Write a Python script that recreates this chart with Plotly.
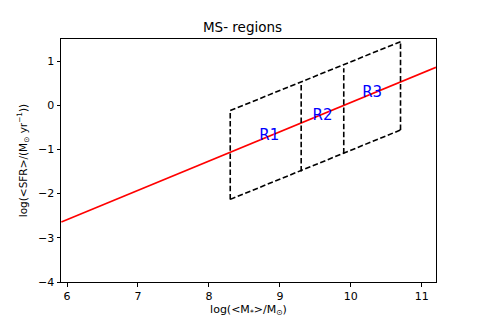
import plotly.graph_objects as go

# Main-sequence line
ms_x = [5.92, 11.2]
ms_y = [-2.64, 0.86]

# Region boundaries (x positions) with top/bottom y values
edge_x = [8.3, 9.3, 9.9, 10.7]
edge_top = [-0.12, 0.50, 0.84, 1.44]
edge_bot = [-2.13, -1.50, -1.09, -0.56]

# Region labels
lab_text = ["R1", "R2", "R3"]
lab_x = [8.85, 9.60, 10.30]
lab_y = [-0.69, -0.24, 0.27]

x_ticks = [6, 7, 8, 9, 10, 11]
y_ticks = [-4, -3, -2, -1, 0, 1]

fig = go.Figure()

fig.add_trace(go.Scatter(x=ms_x, y=ms_y, mode="lines",
                         line=dict(color="red", width=1.6), showlegend=False))

dash = dict(color="black", width=1.6, dash="5.5px,2.6px")
# top and bottom edges
fig.add_trace(go.Scatter(x=[edge_x[0], edge_x[-1]], y=[edge_top[0], edge_top[-1]],
                         mode="lines", line=dash, showlegend=False))
fig.add_trace(go.Scatter(x=[edge_x[0], edge_x[-1]], y=[edge_bot[0], edge_bot[-1]],
                         mode="lines", line=dash, showlegend=False))
# vertical edges
for xv, yt, yb in zip(edge_x, edge_top, edge_bot):
    fig.add_trace(go.Scatter(x=[xv, xv], y=[yb, yt], mode="lines",
                             line=dash, showlegend=False))

fig.add_trace(go.Scatter(x=lab_x, y=lab_y, mode="text", text=lab_text,
                         textfont=dict(color="blue", size=15, family="DejaVu Sans"),
                         showlegend=False))

fig.update_layout(
    width=485, height=323,
    margin=dict(l=61, r=49, t=39, b=41),
    paper_bgcolor="white", plot_bgcolor="white",
    font=dict(family="DejaVu Sans", color="black", size=11),
    title=dict(text="MS- regions", x=0.5, xanchor="center", y=0.915, yanchor="middle",
               font=dict(size=13.5, family="DejaVu Sans", color="black")),
)
fig.update_xaxes(range=[5.915, 11.2], tickvals=x_ticks, ticks="outside", ticklen=3.5,
                 tickcolor="black", showline=True, linecolor="black", linewidth=1,
                 mirror=True, showgrid=False, zeroline=False,
                 title=dict(text="log(&lt;M<sub>*</sub>&gt;/M<sub>⊙</sub>)", standoff=2,
                            font=dict(size=11)))
fig.update_yaxes(range=[-4, 1.5], tickvals=y_ticks, ticks="outside", ticklen=3.5,
                 tickcolor="black", showline=True, linecolor="black", linewidth=1,
                 mirror=True, showgrid=False, zeroline=False,
                 title=dict(text="log(&lt;SFR&gt;/(M<sub>⊙</sub> yr<sup>−1</sup>))", standoff=8,
                            font=dict(size=10.5)))

fig.write_html("out.html", config={"displayModeBar": False},
               post_script="document.body.style.margin='0';document.body.style.padding='0';")
